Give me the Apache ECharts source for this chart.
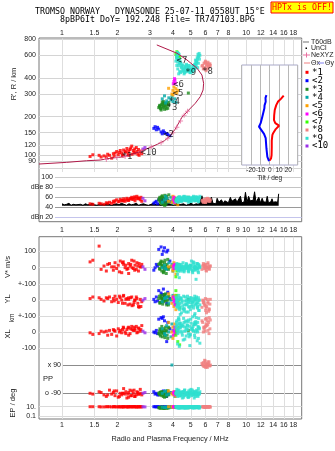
<!DOCTYPE html>
<html><head><meta charset="utf-8">
<script src="https://cdn.jsdelivr.net/npm/echarts@6/dist/echarts.min.js"></script>
<style>html,body{margin:0;padding:0;background:#fff}#c{width:335px;height:451px}</style>
</head><body><div id="c"></div>
<script>
// ---------- tick labels ----------
const freqTicks = [1,1.5,2,3,4,5,6,7,8,10,12,14,16,18];
const freqTicksMid = [1,1.5,2,3,4,5,6,7,8,9,10,12,14,16,18];
const heightTicks = [80,90,100,120,150,200,300,400,600,800];
const dbTicks = [20,40,60,80,100];
const vTicks = [0,100];
const ylTicks = [-100,0,100];
const xlTicks = [-100,0];
const ppTicks = [-90,90];
const epTicks = [0.1,10];

// ---------- echo classes ----------
const echoNames = ['*1','<2','*3','*4','<5','<6','<7','*8','*9','<10'];
const echoColors = ['#ff0000','#0000ff','#1e8c1e','#00a8a8','#ffa000','#ff00ff','#33ff00','#f08080','#30e0d0','#9a30e8'];

const e1F = [1.42,1.59,1.69,1.74,1.81,1.86,1.90,1.94,1.98,2.02,2.07,2.11,2.16,2.20,2.25,2.30,2.34,2.39,2.44,2.49,2.55,2.60,2.66,2.71,2.30,2.40,2.15,2.58,2.48,2.62, 1.47,1.63,1.77,1.92,2.05,2.13,2.22,2.28,2.36,2.46,2.53,2.68];
const e1H = [98,100,99,97,100,95,103,104,107,101,109,104,110,106,113,108,111,118,109,104,107,111,106,103,100,102,99,102,112,100, 101,97,102,98,105,100,107,103,114,105,115,108];
const e1A = [47,48,46,49,50,48,52,53,55,51,56,54,57,52,58,55,57,60,56,53,62,58,55,52,54,56,53,59,61,57, 46,47,48,50,52,53,55,54,58,59,57,60];
const e1V = [35,130,10,-20,25,5,-15,30,-5,15,40,-30,20,0,-10,25,10,45,-5,15,30,-20,5,20,-35,0,35,10,-15,25, 45,-10,20,5,-25,30,15,-5,20,40,-10,5];
const e1YL = [10,15,-5,15,20,-10,10,25,5,-15,15,0,30,-20,10,5,-25,20,-30,0,10,-40,5,-10,15,-35,25,-20,0,-45, 20,5,10,-5,25,-20,5,-30,15,-15,20,-40];
const e1XL = [-5,-10,0,5,10,-15,15,5,-25,20,10,-5,25,0,15,30,-10,35,10,20,-5,25,5,40,-20,15,30,0,10,20, -15,5,-20,10,0,15,-10,25,20,30,35,15];
const e1PP = [-90,-80,-100,-110,-70,-95,-85,-105,-75,-115,-90,-100,-60,-95,-120,-85,-70,-105,-90,-110,-80,-95,-65,-100,-115,-75,-90,-85,-110,-95, -95,-85,-100,-75,-110,-90,-80,-95,-105,-70,-100,-90];
const e1EP = [10,10,9,10,10,9,10,10,9,10,10,9,10,10,9,10,10,9,10,10,9,10,10,9,10,10,9,10,10,9, 10,9,10,10,9,10,10,9,10,10,9,10];

const e2F = [3.15,3.2,3.25,3.35,3.45,3.55,3.6,3.7,3.75,3.85,3.3,3.5];
const e2H = [162,167,158,160,152,155,150,148,145,142,165,147];
const e2A = [48,50,52,55,53,57,50,49,54,51,47,56];
const e2V = [-15,0,20,110,125,100,120,95,105,40,10,80];
const e2YL = [5,-10,20,60,45,70,30,-20,50,10,-5,35];
const e2XL = [0,-5,10,80,90,95,70,-60,60,20,-10,85];
const e2PP = [-80,-95,-90,-100,-85,-75,-90,-110,-95,-85,-100,-90];
const e2EP = [10,10,9,10,10,9,10,10,9,10,10,9];

const e3F = [3.35,3.4,3.45,3.5,3.55,3.6,3.65,3.7,3.75,3.45,3.55,3.8,3.4,3.6,4.85, 3.38,3.42,3.48,3.52,3.58,3.62,3.68,3.72,3.78,3.5];
const e3H = [235,245,230,250,240,255,238,248,232,225,262,258,240,228,305, 242,232,248,236,252,244,230,256,245,260];
const e3A = [55,60,48,63,52,58,45,62,50,57,47,65,53,44,60, 58,50,61,46,55,64,49,57,52,60];
const e3V = [20,-10,40,5,-25,30,10,-5,50,15,-30,0,25,-15,5, -5,30,-20,15,0,45,-35,20,-10,35];
const e3YL = [10,-20,30,5,-10,20,40,-30,0,15,-5,25,-15,35,5, 25,-15,10,-25,35,0,-5,20,-30,15];
const e3XL = [-10,20,0,-30,10,-20,30,5,-40,15,-5,25,-15,0,10, 5,-25,35,-10,20,-35,10,-20,30,0];
const e3PP = [-90,-100,-80,-95,-110,-85,-90,-105,-75,-95,-90,-100,-85,-115,-90, -95,-85,-105,-80,-100,-90,-110,-75,-95,-85];
const e3EP = [6,5,8,6,5,7,6,5,8,6,5,6,7,5,6, 7,5,6,8,5,6,7,5,6,8];

const e4F = [3.5,3.6,3.7,3.8,3.9,4.0,4.1,3.65,3.95,4.15];
const e4H = [275,290,265,280,270,262,275,255,285,258];
const e4A = [50,55,58,52,60,48,56,62,53,57];
const e4V = [0,15,-10,30,5,-20,10,-5,20,0];
const e4YL = [-10,10,20,-20,0,30,-30,15,5,-15];
const e4XL = [20,-10,40,0,-30,10,30,-20,50,5];
const e4PP = [-90,-80,-100,-95,-85,-90,-110,-75,90,-90];
const e4EP = [8,7,9,8,7,9,8,7,9,8];

const e5F = [3.95,4.0,4.05,4.1,4.15,4.2,4.0,4.25,3.79];
const e5H = [300,320,340,310,330,305,295,320,332];
const e5A = [50,55,60,48,57,53,62,45,52];
const e5V = [10,-20,30,0,-40,20,-10,15,5];
const e5YL = [-20,10,-40,30,-60,0,20,-10,40];
const e5XL = [0,30,-20,50,-10,20,-40,10,60];
const e5PP = [-90,-100,-80,-95,-110,-85,-90,-100,-75];
const e5EP = [9,8,10,9,8,10,9,8,10];

const e6F = [4.02,4.05,4.1,4.12,4.08];
const e6H = [360,375,385,365,395];
const e6A = [55,60,52,58,50];
const e6V = [10,-5,20,0,15];
const e6YL = [20,-10,10,-30,0];
const e6XL = [-20,10,30,-10,0];
const e6PP = [-85,-95,-90,-100,-80];
const e6EP = [10,9,10,9,10];

const e7F = [4.15,4.2,4.25,4.3,4.35,4.2];
const e7H = [610,640,600,590,575,580];
const e7A = [55,58,52,60,57,54];
const e7V = [-55,-20,10,20,-10,0];
const e7YL = [60,30,-20,0,-50,10];
const e7XL = [-20,10,-60,30,-80,0];
const e7PP = [-90,-95,-85,-100,-90,-80];
const e7EP = [9,10,9,10,9,10];

const e8F = [5.8,5.9,6.0,6.1,6.2,6.3,5.95,6.15,6.05,5.85,6.25,6.35, 5.75,5.88,5.98,6.08,6.18,6.28,6.38,6.02];
const e8H = [500,520,540,510,530,505,480,470,455,470,490,515, 495,475,525,495,515,485,500,530];
const e8A = [52,55,50,57,53,56,51,58,54,50,55,52, 54,51,56,53,57,52,55,50];
const e8V = [10,-5,20,0,30,-10,15,5,-15,25,0,10, -10,15,5,-20,20,-5,10,0];
const e8YL = [0,-20,10,-40,-10,-60,-30,5,-50,-15,-70,-25, -45,-5,-35,-80,-20,-55,5,-65];
const e8XL = [60,20,80,40,10,90,30,70,50,0,60,20, 70,30,5,85,45,-10,75,35];
const e8PP = [90,80,100,95,110,85,120,75,90,105,95,85, 100,85,115,80,95,110,90,75];
const e8EP = [10,9,8,10,9,10,8,9,10,9,8,10, 9,10,8,10,9,10,8,9];

const e9F = [4.15,4.18,4.22,4.28,4.2,4.25,4.3,4.25,4.35,4.3,4.2,4.4,4.5,4.6,4.7,4.8,4.9,5.0,5.1,5.2,5.3,4.55,4.65,4.75,4.85,4.45,5.35,5.4,5.45,5.5,5.55,5.3,5.6,5.5,5.45,5.25,4.95,4.38,4.33,5.15,
  4.22,4.27,4.32,4.37,4.42,4.47,4.52,4.57,4.62,4.67,4.72,4.77,4.82,4.87,4.92,4.97,5.02,5.07,5.12,5.17,5.22,5.27,5.32,5.37,5.42,5.47,5.52,5.57,4.24,4.34,4.44,4.54,4.64,4.74,4.84,4.94,5.04,5.14,5.24,5.34];
const e9H = [540,580,600,620,560,530,500,470,450,430,500,440,450,430,445,460,470,455,445,460,480,470,490,500,485,480,500,530,560,590,620,550,600,520,480,510,440,520,560,470,
  590,560,610,540,520,500,470,455,440,465,480,455,475,500,460,440,465,450,470,490,475,500,520,545,575,610,585,560,630,520,490,505,485,510,450,495,470,490,500,530];
const e9A = [52,55,58,50,54,57,60,53,56,59,51,55,58,62,54,57,60,52,56,59,53,61,55,58,50,54,57,60,56,53,59,55,62,51,57,54,58,52,56,60,
  55,58,53,60,56,52,59,54,57,61,53,58,55,60,52,57,54,59,56,62,53,58,55,60,54,57,52,59,56,61,53,58,55,60,54,57,52,59,56,61];
const e9V = [0,10,-10,20,-5,5,-20,15,0,-15,25,-10,5,-25,10,0,-5,15,-20,30,5,-10,0,20,-15,10,-5,25,0,-30,15,-10,5,20,-5,0,10,-20,-60,35,
  5,-10,15,-5,20,0,-20,10,-15,5,25,-5,0,-25,10,15,-10,5,-30,20,0,-15,10,-5,25,-20,5,0,-40,15,-10,30,-5,10,-20,0,40,-15,5,-70];
const e9YL = [20,-10,0,-30,10,-50,30,-20,-60,5,-40,15,-5,-70,-25,25,-45,0,-15,-35,10,-55,20,-30,-10,-80,5,-20,-40,15,-65,-5,-30,0,-50,25,-15,-90,-35,10,
  -5,-25,15,-45,5,-15,-35,25,-55,-5,-75,10,-20,-40,0,-60,15,-30,-10,-50,5,-85,-25,20,-45,-15,-65,0,-35,-20,10,-55,-30,-5,-75,15,-40,-10,-95,-25];
const e9XL = [30,60,10,80,40,-10,90,20,50,0,70,30,-20,60,10,40,-30,80,20,50,0,-50,30,70,-10,40,90,10,60,-40,20,50,-70,30,0,60,-20,40,-90,10,
  45,15,75,25,55,-5,35,85,5,65,-25,45,15,75,35,-15,55,25,95,5,45,-35,65,15,-55,35,85,25,-75,55,5,45,-45,25,65,-85,15,35,-20,50];
const e9PP = [-90,-80,-100,-70,-95,-110,-85,-75,-105,-90,-65,-100,-120,-80,-95,-90,-110,-85,-70,-100,-90,-80,-105,-95,-115,-85,-75,-90,-100,-60,-95,-110,-80,-90,-100,-85,-70,-105,-95,-90,
  -85,-95,-75,-105,-90,-80,-100,-115,-70,-90,-95,-85,-110,-75,-100,-90,-65,-105,-95,-80,-120,-90,-85,-100,-75,-110,-95,-90,-80,-105,-85,-100,-70,-95,-115,-85,-90,-100,-80,-95];
const e9EP = [10,9,6,10,8,10,5,9,10,7,6,10,9,10,5,9,10,8,6,10,9,10,5,9,10,8,6,10,9,10,5,9,10,8,6,10,9,10,5,9,
  9,10,7,10,5,9,8,10,6,9,10,7,5,10,9,8,10,6,9,10,5,9,8,10,7,9,10,6,9,8,10,5,9,10,7,8,10,6,9,10];

const e10F = [2.75,2.82];
const e10H = [112,115];
const e10A = [58,53];
const e10V = [5,-10];
const e10YL = [0,10];
const e10XL = [5,-5];
const e10PP = [-90,-85];
const e10EP = [10,9];

// label positions of echo classes on the ionogram
const echoLabelF = [2.25,3.79,3.95,4.08,4.26,4.29,4.48,6.17,5.0,2.95];
const echoLabelH = [97.5,146,235,261,303,357,545,447,443,105];

// ---------- profile ----------
const profF = [0.75,1.06,1.36,1.61,1.82,2.16,2.65,3.0,3.3,3.6,3.87,4.12,4.48,4.87,5.29,5.63,5.83,5.87,5.75,5.41,4.77,4.21,3.27];
const profH = [85.6,88.2,90.8,91.9,94.8,97.5,106.7,115,122,130,142,160,198,225,254,286,322,363,421,475,551,622,722];
const neF = [1.74,1.98,2.2,2.7,3.05,3.45,3.75,4.0,4.2,4.4,4.6,4.8];
const neH = [93,96,98,108,116,125,136,150,165,185,205,220];

// ---------- noise (dB) ----------
const noiseF = [1.00,1.03,1.06,1.09,1.12,1.15,1.19,1.22,1.26,1.30,1.34,1.38,1.42,1.46,1.50,1.55,1.60,1.65,1.70,1.75,1.80,1.86,1.92,1.98,2.04,2.10,2.17,2.24,2.31,2.38,2.45,2.53,2.61,2.69,2.77,2.86,2.95,3.04,3.14,3.24,3.34,3.45,3.56,3.67,3.79,3.91,4.03,4.16,4.29,4.43,4.57,4.72,4.87,5.02,5.18,5.35,5.52,5.65,5.75,5.85,6.0,6.12,6.25,6.35,6.47,6.6,6.75,6.85,6.95,7.1,7.2,7.33,7.5,7.65,7.8,8.0,8.2,8.35,8.5,8.74,8.9,9.1,9.3,9.45,9.6,9.75,9.9,10.1,10.3,10.5,10.7,10.9,11.1,11.3,11.5,11.7,11.95,12.2,12.4,12.6,12.8,13.0,13.2,13.4,13.6,13.8,14.0,14.2,14.4,14.6,14.8,15.0];
const noiseA = [47,45,46,48,44,46,45,47,46,44, 47,45,46,48,45,44,47,46,45,48, 46,44,46,47,45,48,46,44,47,45, 46,48,44,46,47,45,44,46,48,45, 47,44,46,45,47,46,44,48,45,46, 47,44,46,48,45,47,46,49,63,48, 51,47,53,50,60,48,52,47,58,50, 49,55,48,53,51,49,60,52,48,57, 50,53,62,49,52,51,70,50,62,53, 49,54,71,50,52,60,49,58,51,53, 50,62,49,52,51,57,50,53,51,55, 50,67];

// ---------- tilt inset ----------
const tiltTicks = [-20,-10,0,10,20];
const thetaX  = [15,13.5,12,9,7,5.4,4.8,4.6,6,10,6.5,4,2.9,2.2,2.2,2,1.5,0];
const thetaXH = [292,285,275,262,246,225,205,188,178,170,160,150,144,130,115,100,95,91];
const thetaY  = [-3.5,-4.5,-4.3,-5.5,-5.7,-7.9,-9.7,-11.5,-8.9,-6.1,-4.3,-3.5,-2.5,-0.7];
const thetaYH = [294,280,261,245,232,200,178,167,157,147,136,113,97,90];

// ---------- build ----------
const pts = (a,b) => a.map((v,i)=>[v,b[i]]);
const echoes = [
  [e1F,e1H,e1A,e1V,e1YL,e1XL,e1PP,e1EP],[e2F,e2H,e2A,e2V,e2YL,e2XL,e2PP,e2EP],
  [e3F,e3H,e3A,e3V,e3YL,e3XL,e3PP,e3EP],[e4F,e4H,e4A,e4V,e4YL,e4XL,e4PP,e4EP],
  [e5F,e5H,e5A,e5V,e5YL,e5XL,e5PP,e5EP],[e6F,e6H,e6A,e6V,e6YL,e6XL,e6PP,e6EP],
  [e7F,e7H,e7A,e7V,e7YL,e7XL,e7PP,e7EP],[e8F,e8H,e8A,e8V,e8YL,e8XL,e8PP,e8EP],
  [e9F,e9H,e9A,e9V,e9YL,e9XL,e9PP,e9EP],[e10F,e10H,e10A,e10V,e10YL,e10XL,e10PP,e10EP]
];

const SANS = '"Liberation Sans", Arial, sans-serif';
const MONO = '"DejaVu Sans Mono", monospace';
const lab = {fontSize:7, color:'#222', fontFamily:SANS};
const W = 262.7, L = 39;
const G = (o) => Object.assign({outerBoundsMode:'none', containLabel:false}, o);
const grids = [
  G({left:L, top:38, width:W, height:183.7, show:true, borderColor:'#777', borderWidth:1}), //0 top box
  G({left:L, top:38.5, width:W, height:133.5}),                                           //1 ionogram
  G({left:55, top:172.3, width:246.7, height:49.4}),                                      //2 dB
  G({left:L, top:236.7, width:W, height:182.3, show:true, borderColor:'#777', borderWidth:1}), //3 bottom box
  G({left:L, top:236.7, width:W, height:47.6}),  //4 V*
  G({left:L, top:284.3, width:W, height:31.7}),  //5 YL
  G({left:L, top:316, width:W, height:32}),      //6 XL
  G({left:62, top:365, width:239.7, height:28.3}), //7 PP
  G({left:L, top:406.7, width:W, height:9.3}),   //8 EP
  G({left:241.7, top:65, width:56, height:100, show:true, backgroundColor:'#fff', borderColor:'#a8a8c8', borderWidth:1, z:5}) //9 inset
];
const hidLog = (gi,min) => ({type:'log', gridIndex:gi, min:min, max:20, show:false});
const freqFmt = v => String(+v.toFixed(2));
const xAxes = [
  hidLog(0,0.75),
  {type:'log', gridIndex:1, min:0.75, max:20, position:'top', axisLine:{show:false},
   axisTick:{show:false, customValues:freqTicks}, axisLabel:Object.assign({customValues:freqTicks, margin:2, formatter:freqFmt}, lab),
   splitLine:{show:true, lineStyle:{color:'#dedede', width:1}}},
  hidLog(2,0.916),
  {type:'log', gridIndex:3, min:0.75, max:20, position:'bottom', axisLine:{show:false},
   axisTick:{show:false, customValues:freqTicks}, axisLabel:Object.assign({customValues:freqTicks, margin:3, formatter:freqFmt}, lab),
   splitLine:{show:true, lineStyle:{color:'#dedede', width:1}}},
  {type:'log', gridIndex:3, min:0.75, max:20, position:'top', axisLine:{show:false},
   axisTick:{show:false, customValues:freqTicksMid}, axisLabel:Object.assign({customValues:freqTicksMid, margin:3, formatter:freqFmt}, lab),
   splitLine:{show:false}},
  hidLog(4,0.75), hidLog(5,0.75), hidLog(6,0.75), hidLog(7,1), hidLog(8,0.75),
  {type:'value', gridIndex:9, min:-30, max:30, interval:10, z:6, axisLine:{show:false}, axisTick:{show:false},
   axisLabel:{fontSize:6.5, color:'#222', fontFamily:SANS, margin:2, showMinLabel:false, showMaxLabel:false},
   splitLine:{show:true, lineStyle:{color:'#b8b8b8'}},
   name:'Tilt / deg', nameLocation:'middle', nameGap:9, nameTextStyle:{fontSize:6.5, color:'#222', fontFamily:SANS}}
];
const yLab = (vals, margin, fmt) => Object.assign({customValues:vals, margin:margin, formatter:fmt}, lab);
const yAxes = [
  {type:'value', gridIndex:0, show:false},
  {type:'log', gridIndex:1, min:74.2, max:810, axisLine:{show:false}, axisTick:{show:false, customValues:heightTicks},
   axisLabel:yLab(heightTicks,3,v=>String(Math.round(v))), splitLine:{show:true, lineStyle:{color:'#d4d4d4'}}},
  {type:'value', gridIndex:2, min:11.2, max:110, axisLine:{show:false}, axisTick:{show:false, customValues:dbTicks},
   axisLabel:yLab(dbTicks,2,v=> v===80?'dBe 80':(v===20?'dBn 20':String(v))),
   splitLine:{show:true, lineStyle:{color:['#c4c4ec','#9a9a9a','#b4b4b4','#c4c4c4','#cccccc']}}},
  {type:'value', gridIndex:3, show:false},
  {type:'value', gridIndex:4, min:-100, max:186.7, axisLine:{show:false}, axisTick:{show:false, customValues:vTicks},
   axisLabel:yLab(vTicks,3,v=>String(v)), splitLine:{show:true, lineStyle:{color:'#dadada'}}},
  {type:'value', gridIndex:5, min:-100, max:100, axisLine:{show:false}, axisTick:{show:false, customValues:ylTicks},
   axisLabel:yLab(ylTicks,3,v=> v===0?'0':'+-100'), splitLine:{show:true, lineStyle:{color:'#dadada'}}},
  {type:'value', gridIndex:6, min:-100, max:100, axisLine:{show:false}, axisTick:{show:false, customValues:xlTicks},
   axisLabel:yLab(xlTicks,3,v=>String(v)), splitLine:{show:true, lineStyle:{color:'#dadada'}}},
  {type:'value', gridIndex:7, min:-90, max:90, axisLine:{show:false}, axisTick:{show:false, customValues:ppTicks},
   axisLabel:yLab(ppTicks,1,v=> v>0?'x 90':'o -90'), splitLine:{show:true, lineStyle:{color:'#8c8c8c'}}},
  {type:'log', gridIndex:8, min:0.1, max:10, axisLine:{show:false}, axisTick:{show:false, customValues:epTicks},
   axisLabel:yLab(epTicks,3,v=> v>1?'10.':'0.1'), splitLine:{show:true, lineStyle:{color:'#dadada'}}},
  {type:'log', gridIndex:9, min:84, max:505, show:false}
];

const series = [];
series.push({type:'line', xAxisIndex:2, yAxisIndex:2, data:pts(noiseF,noiseA), symbol:'none', z:1,
  lineStyle:{color:'#000', width:1}, areaStyle:{color:'#000', opacity:1, origin:43}, silent:true});
series.push({type:'line', xAxisIndex:1, yAxisIndex:1, data:pts(profF,profH), symbol:'none', z:3,
  lineStyle:{color:'#b01848', width:1}});
series.push({type:'scatter', xAxisIndex:1, yAxisIndex:1, data:pts(neF,neH), z:3,
  symbol:'path://M4,0H6V4H10V6H6V10H4V6H0V4H4Z', symbolSize:5, itemStyle:{color:'#e870a0'}});
const panels = [[1,1,1],[2,2,2],[5,4,3],[6,5,4],[7,6,5],[8,7,6],[9,8,7]];
echoes.forEach((e,ci)=>{
  panels.forEach(([xi,yi,di])=>{
    series.push({type:'scatter', xAxisIndex:xi, yAxisIndex:yi, data:pts(e[0], e[di]), symbol:'rect', symbolSize:3,
      itemStyle:{color:echoColors[ci]}, z:2, clip:false});
  });
});
series.push({type:'scatter', xAxisIndex:1, yAxisIndex:1, z:4, symbolSize:1, itemStyle:{color:'rgba(0,0,0,0)'},
  data: echoNames.map((n,i)=>({name:n, value:[echoLabelF[i], echoLabelH[i]]})),
  label:{show:true, position:'inside', formatter:'{b}', fontSize:9, fontFamily:MONO, color:'#000'}});
series.push({type:'line', xAxisIndex:10, yAxisIndex:9, data:pts(thetaX,thetaXH), symbol:'none', z:7, lineStyle:{color:'#ff0000', width:2}});
series.push({type:'line', xAxisIndex:10, yAxisIndex:9, data:pts(thetaY,thetaYH), symbol:'none', z:7, lineStyle:{color:'#0000ff', width:2}});

// ---------- graphics ----------
const T = (x,y,text,font,opts) => ({type:'text', x:x, y:y, z:10, rotation:(opts&&opts.rot)||0,
  style:{text:text, font:font, fill:(opts&&opts.fill)||'#000', align:(opts&&opts.align)||'left', verticalAlign:'middle',
         textAlign:(opts&&opts.align)||'left', textVerticalAlign:'middle'}});
const graphics = [
  T(35,12.3,'TROMSO NORWAY   DYNASONDE 25-07-11 0558UT 15°E','8.3px '+MONO),
  T(60,20.3,'8pBP6It DoY= 192.248 File= TR747103.BPG','8.3px '+MONO),
  {type:'rect', z:10, shape:{x:271,y:2,width:62,height:11}, style:{fill:'#ffff00', stroke:'#ff0000', lineWidth:1}},
  T(302,7.7,'HPTx is OFF!','8.3px '+MONO,{fill:'#ff0000',align:'center'}),
  T(170,439,'Radio and Plasma Frequency / MHz','7.3px '+SANS,{align:'center',fill:'#222'}),
  T(14,84,"R', R / km",'7.5px '+SANS,{align:'center',rot:Math.PI/2,fill:'#222'}),
  T(8,267,'V* m/s','7.5px '+SANS,{align:'center',rot:Math.PI/2,fill:'#222'}),
  T(8,299,'YL','7.5px '+SANS,{align:'center',rot:Math.PI/2,fill:'#222'}),
  T(12,318,'km','6.5px '+SANS,{align:'center',rot:Math.PI/2,fill:'#222'}),
  T(8,334,'XL','7.5px '+SANS,{align:'center',rot:Math.PI/2,fill:'#222'}),
  T(13,403,'EP / deg','7.5px '+SANS,{align:'center',rot:Math.PI/2,fill:'#222'}),
  T(43,379,'PP','7.5px '+SANS,{fill:'#222'}),
  {type:'line', z:10, shape:{x1:303,y1:42,x2:309,y2:42}, style:{stroke:'#a0a0a0', lineWidth:1.5}},
  T(311,42,'T60dB','7px '+SANS,{fill:'#222'}),
  {type:'rect', z:10, shape:{x:305.5,y:47.5,width:1.5,height:1.5}, style:{fill:'#000'}},
  T(311,48.5,'UnCl','7px '+SANS,{fill:'#222'}),
  {type:'line', z:10, shape:{x1:303,y1:55,x2:310,y2:55}, style:{stroke:'#e870a0', lineWidth:1}},
  {type:'line', z:10, shape:{x1:306.5,y1:52.5,x2:306.5,y2:57.5}, style:{stroke:'#e870a0', lineWidth:1}},
  T(311,55,'NeXYZ','7px '+SANS,{fill:'#222'}),
  {type:'line', z:10, shape:{x1:304,y1:63,x2:310,y2:63}, style:{stroke:'#f08080', lineWidth:1}},
  T(311,63,'Θx','7px '+SANS,{fill:'#222'}),
  {type:'line', z:10, shape:{x1:318,y1:63,x2:324,y2:63}, style:{stroke:'#8080f0', lineWidth:1}},
  T(325,63,'Θy','7px '+SANS,{fill:'#222'})
];
const legY = [72.3,80.7,89.3,97.3,105.7,114,122,130,138.3,146];
echoNames.forEach((n,i)=>{
  graphics.push({type:'rect', z:10, shape:{x:305.5,y:legY[i]-1.5,width:3,height:3}, style:{fill:echoColors[i]}});
  graphics.push(T(312,legY[i],n,'9px '+MONO));
});

const chart = echarts.init(document.getElementById('c'), null, {renderer:'canvas'});
chart.setOption({animation:false, backgroundColor:'#fff', grid:grids, xAxis:xAxes, yAxis:yAxes, series:series, graphic:graphics});
</script></body></html>
